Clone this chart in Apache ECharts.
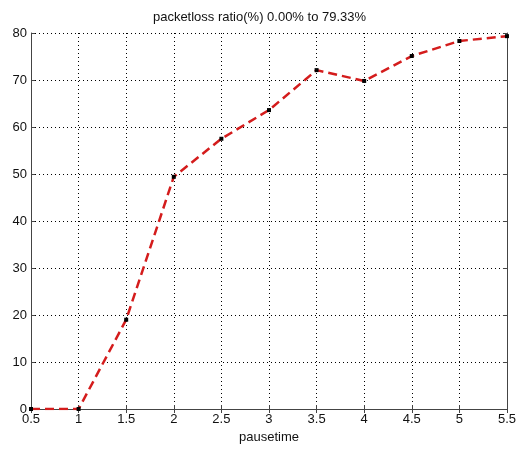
<!DOCTYPE html>
<html>
<head>
<meta charset="utf-8">
<script src="https://cdn.jsdelivr.net/npm/echarts@6/dist/echarts.min.js"></script>
<style>
  html, body { margin: 0; padding: 0; background: #fff; }
  #chart { width: 519px; height: 450px; }
</style>
</head>
<body>
<div id="chart"></div>
<script>
// pause time (x) and measured packet loss ratio in percent (y)
var pauseTimes = [0.5, 1, 1.5, 2, 2.5, 3, 3.5, 4, 4.5, 5, 5.5];
var lossRatio = [0, 0, 19.0, 49.4, 57.5, 63.6, 72.1, 69.8, 75.1, 78.3, 79.33];
var titleText = 'packetloss ratio(%) 0.00% to 79.33%';
var xName = 'pausetime';

var points = pauseTimes.map(function (t, i) { return [t, lossRatio[i]]; });

var labelFont = { fontFamily: 'Liberation Sans, Arial, sans-serif', fontSize: 13, color: '#111' };
var frameLine = { show: true, lineStyle: { color: '#444', width: 1 } };
var gridDots = { show: true, lineStyle: { color: '#000', type: [1, 3], width: 1 } };
var innerTicks = { show: true, inside: true, length: 4, lineStyle: { color: '#444' } };

var chart = echarts.init(document.getElementById('chart'), null, { renderer: 'canvas' });
chart.setOption({
  backgroundColor: '#fff',
  animation: false,
  title: {
    text: titleText,
    left: 'center',
    top: 6,
    textStyle: { fontFamily: 'Liberation Sans, Arial, sans-serif', fontSize: 13, fontWeight: 'normal', color: '#111' }
  },
  grid: { left: 31, right: 10, top: 33, bottom: 41, containLabel: false },
  xAxis: [{
    type: 'value', min: 0.5, max: 5.5, interval: 0.5,
    name: xName, nameLocation: 'middle', nameGap: 22,
    nameTextStyle: labelFont,
    axisLine: frameLine, axisTick: innerTicks, splitLine: gridDots,
    axisLabel: Object.assign({ margin: 4 }, labelFont)
  }, {
    type: 'value', position: 'top', min: 0.5, max: 5.5, interval: 0.5,
    axisLine: frameLine, axisTick: innerTicks, splitLine: { show: false },
    axisLabel: { show: false }
  }],
  yAxis: [{
    type: 'value', min: 0, max: 80, interval: 10,
    axisLine: frameLine, axisTick: innerTicks, splitLine: gridDots,
    axisLabel: Object.assign({ margin: 4 }, labelFont)
  }, {
    type: 'value', position: 'right', min: 0, max: 80, interval: 10,
    axisLine: frameLine, axisTick: innerTicks, splitLine: { show: false },
    axisLabel: { show: false }
  }],
  series: [{
    type: 'line',
    data: points,
    lineStyle: { color: '#d41c1c', width: 2.5, type: [9, 5] },
    symbol: 'rect',
    symbolSize: 4,
    itemStyle: { color: '#000', borderWidth: 0 },
    z: 5
  }]
});
</script>
</body>
</html>
